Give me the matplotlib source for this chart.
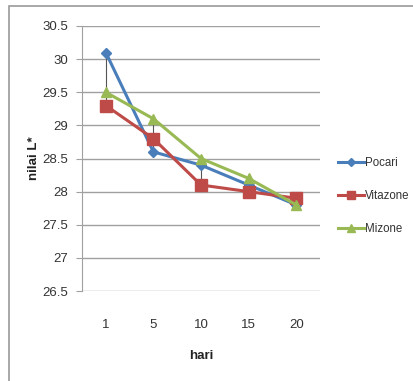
import matplotlib
matplotlib.use("Agg")
import matplotlib.pyplot as plt
from matplotlib.patches import Rectangle

days = ["1", "5", "10", "15", "20"]
pocari = [30.1, 28.6, 28.4, 28.1, 27.8]
vitazone = [29.3, 28.8, 28.1, 28.0, 27.9]
mizone = [29.5, 29.1, 28.5, 28.2, 27.8]
yticks = [26.5, 27, 27.5, 28, 28.5, 29, 29.5, 30, 30.5]

plt.rcParams['font.family'] = ['Liberation Sans', 'DejaVu Sans']
fig = plt.figure(figsize=(4.14, 3.81), dpi=100)
fig.patches.append(Rectangle((9/414, -0.1), 1.2, 1 - 6/381 + 0.1, transform=fig.transFigure,
                             fill=False, edgecolor='#9a9a9a', linewidth=1.2))
ax = fig.add_axes([82/414, 1 - 291/381, 238/414, 265/381])
x = list(range(len(days)))

# high-low lines
for i in x:
    vals = [pocari[i], vitazone[i], mizone[i]]
    ax.vlines(i, min(vals), max(vals), color='#555555', linewidth=0.8, zorder=2)

ax.plot(x, pocari, color='#4A7EBB', linewidth=2.2, marker='D', markersize=5, label='Pocari', zorder=3)
ax.plot(x, vitazone, color='#BE4B48', linewidth=2.2, marker='s', markersize=8, label='Vitazone', zorder=3)
ax.plot(x, mizone, color='#98B954', linewidth=2.2, marker='^', markersize=7, label='Mizone', zorder=4)

ax.set_xlim(-0.5, 4.5)
ax.set_ylim(26.5, 30.5)
ax.set_yticks(yticks)
ax.set_yticklabels([f"{v:g}" for v in yticks])
ax.set_xticks(x)
ax.set_xticklabels(days)
ax.yaxis.grid(True, color='#a0a0a0', linewidth=1)
ax.set_axisbelow(True)
for s in ['top', 'right', 'bottom']:
    ax.spines[s].set_visible(False)
ax.spines['left'].set_color('#a0a0a0')
ax.tick_params(axis='y', length=4, color='#a0a0a0', labelsize=9.5, pad=6, labelcolor='#333333')
ax.tick_params(axis='x', length=0, labelsize=9.5, pad=20, labelcolor='#333333')
ax.set_xlabel('hari', fontsize=9.5, fontweight='bold', labelpad=14, color='#222222')
ax.set_ylabel('nilai L*', fontsize=9.5, fontweight='bold', labelpad=2, color='#222222')

leg = fig.legend(loc='center left', bbox_to_anchor=(336/414, 1 - 196/381), frameon=False,
                 fontsize=8.3, handlelength=2.2, handletextpad=0.1, labelspacing=1.8,
                 markerscale=0.8, borderaxespad=0, borderpad=0.2)
for t in leg.get_texts():
    t.set_color('#333333')

fig.savefig('out.png', dpi=100)
